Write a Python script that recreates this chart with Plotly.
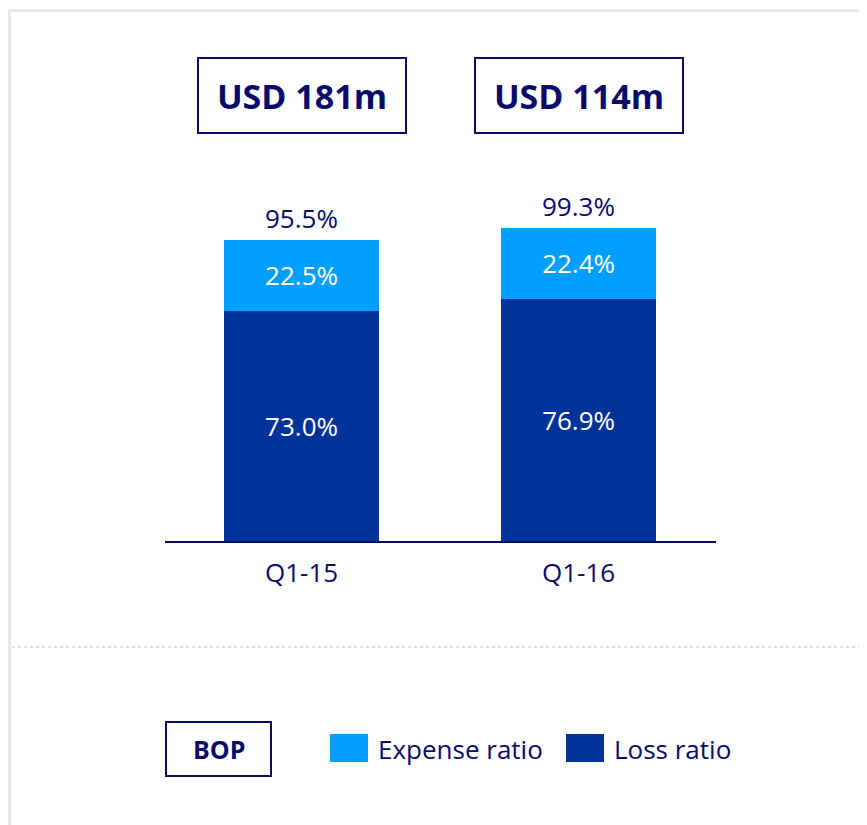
import plotly.graph_objects as go

# data
categories = ["Q1-15", "Q1-16"]
loss_ratio = [73.0, 76.9]
expense_ratio = [22.5, 22.4]
combined_ratio = [95.5, 99.3]
premium_labels = ["USD 181m", "USD 114m"]
segment_name = "BOP"

navy = "#0A0A6B"
light_blue = "#009FFF"
dark_blue = "#003399"
grey = "#E6EAEA"
font_family = "Open Sans"

# page body has an 8px margin, so the figure is a bit smaller
OFF = 8
W, H = 867 - OFF, 825 - OFF

def px(x):
    return (x - OFF) / W

def py(y):
    return 1 - (y - OFF) / H

fig = go.Figure()

fig.add_trace(go.Bar(
    x=categories, y=loss_ratio, name="Loss ratio",
    marker=dict(color=dark_blue, line=dict(width=0)),
    width=0.56,
    text=["%.1f%%" % v for v in loss_ratio],
    textposition="inside", insidetextanchor="middle",
    textfont=dict(color="white", size=26, family=font_family),
    hoverinfo="skip",
))
fig.add_trace(go.Bar(
    x=categories, y=expense_ratio, name="Expense ratio",
    marker=dict(color=light_blue, line=dict(width=0)),
    width=0.56,
    text=["%.1f%%" % v for v in expense_ratio],
    textposition="inside", insidetextanchor="middle",
    textfont=dict(color="white", size=26, family=font_family),
    hoverinfo="skip",
))

annotations = []
# totals above bars
for c, t in zip(categories, combined_ratio):
    annotations.append(dict(
        x=c, y=t, xref="x", yref="y", text="%.1f%%" % t,
        showarrow=False, yanchor="middle", yshift=22,
        font=dict(size=26, color=navy, family=font_family),
    ))
# premium boxes on top
for c, lab in zip(categories, premium_labels):
    annotations.append(dict(
        x=c, y=py(95.5), xref="x", yref="paper",
        text="<b>%s</b>" % lab, showarrow=False,
        xanchor="center", yanchor="middle",
        width=206, height=73, borderpad=0,
        bordercolor=navy, borderwidth=2,
        font=dict(size=34, color=navy, family=font_family),
    ))

shapes = []
# outer grey frame (top and left edges visible)
shapes.append(dict(type="line", xref="paper", yref="paper",
                   x0=px(9.5), x1=px(9.5), y0=py(9), y1=py(830),
                   line=dict(color=grey, width=3)))
shapes.append(dict(type="line", xref="paper", yref="paper",
                   x0=px(8), x1=px(870), y0=py(10.5), y1=py(10.5),
                   line=dict(color=grey, width=3)))
# dotted separator
shapes.append(dict(type="line", xref="paper", yref="paper",
                   x0=px(12), x1=px(867), y0=py(647), y1=py(647),
                   line=dict(color="#DCE1E1", width=2, dash="dot")))

# BOP box
shapes.append(dict(type="rect", xref="paper", yref="paper",
                   x0=px(166), x1=px(271), y0=py(722), y1=py(776),
                   line=dict(color=navy, width=2)))
annotations.append(dict(x=px(218.5), y=py(749), xref="paper", yref="paper",
                        text="<b>%s</b>" % segment_name, showarrow=False,
                        xanchor="center", yanchor="middle",
                        font=dict(size=25, color=navy, family=font_family)))

# custom legend
legend_items = [("Expense ratio", light_blue, 330), ("Loss ratio", dark_blue, 566)]
for name, col, x0 in legend_items:
    shapes.append(dict(type="rect", xref="paper", yref="paper",
                       x0=px(x0), x1=px(x0 + 38), y0=py(762), y1=py(734),
                       fillcolor=col, line=dict(width=0)))
    annotations.append(dict(x=px(x0 + 46), y=py(749), xref="paper", yref="paper",
                            text=name, showarrow=False, xanchor="left",
                            yanchor="middle",
                            font=dict(size=26, color=navy, family=font_family)))

fig.update_layout(
    width=W, height=H,
    margin=dict(l=0, r=0, t=0, b=0),
    paper_bgcolor="white", plot_bgcolor="white",
    barmode="stack", showlegend=False,
    xaxis=dict(domain=[px(165), px(716)], range=[-0.493, 1.496],
               showgrid=False, zeroline=False,
               showline=True, linecolor=navy, linewidth=2,
               ticks="", ticklabelstandoff=8,
               tickfont=dict(size=26, color=navy, family=font_family),
               fixedrange=True),
    yaxis=dict(domain=[py(541), py(141)], range=[0, 400 / 3.152],
               visible=False, fixedrange=True),
    shapes=shapes, annotations=annotations,
    font=dict(family=font_family, color=navy),
)

fig.write_html("out.html")
